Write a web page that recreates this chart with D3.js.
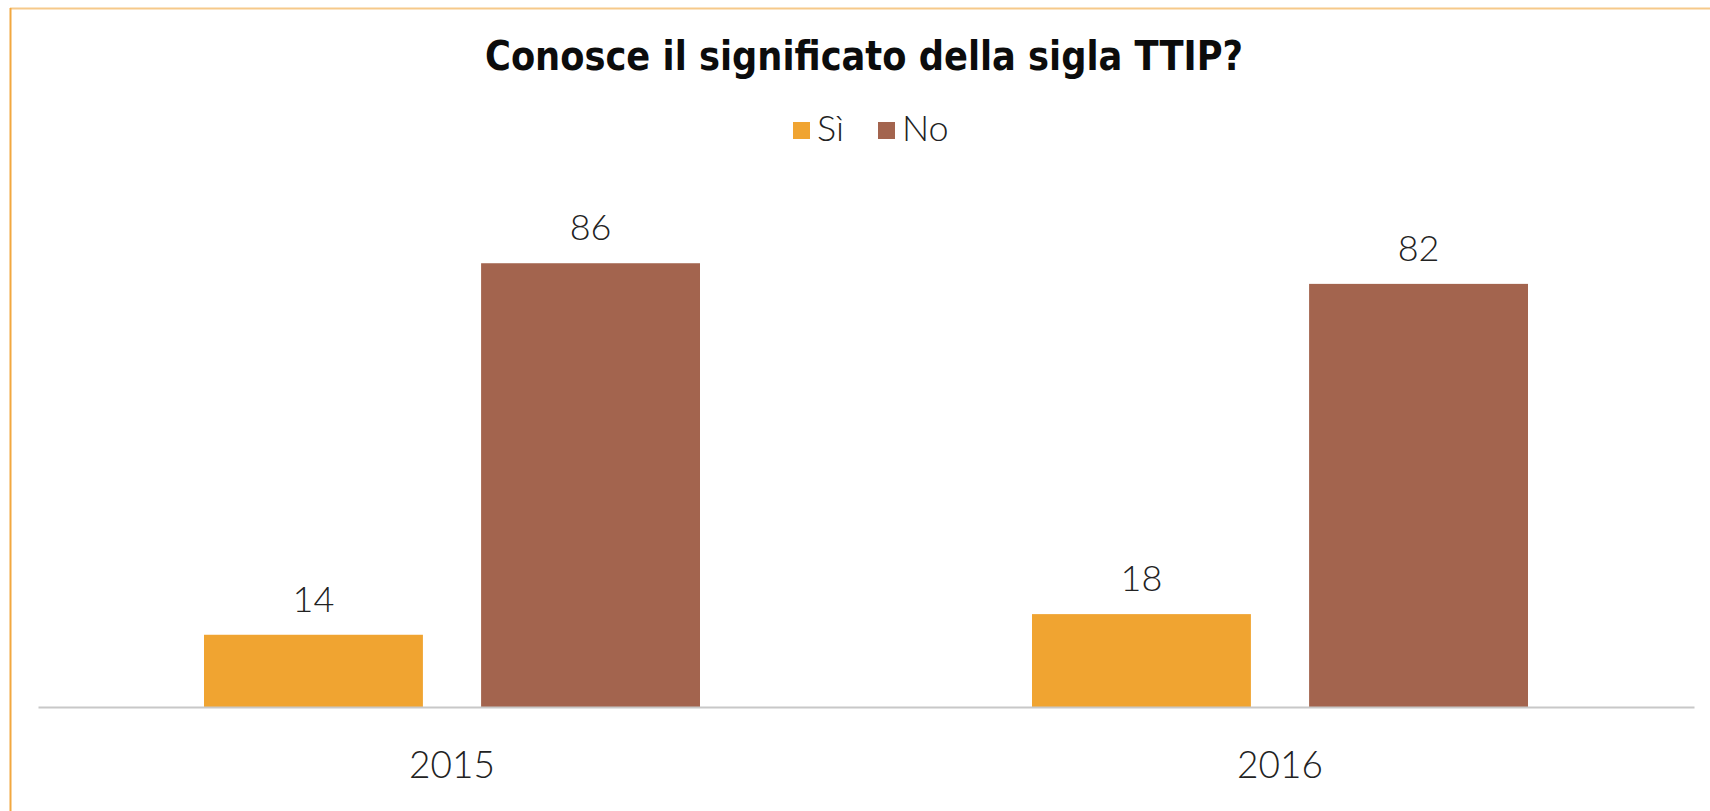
<!DOCTYPE html>
<html>
<head>
<meta charset="utf-8">
<script src="https://cdn.jsdelivr.net/npm/d3@7"></script>
<style>
  html, body { margin:0; padding:0; background:#fff; }
  svg { display:block; }
</style>
</head>
<body>
<svg id="chart" width="1710" height="811"></svg>
<script>
const title      = 'Conosce il significato della sigla TTIP?';
const years      = ['2015', '2016'];
const seriesKeys = ['Sì', 'No'];
const siValues   = [14, 18];
const noValues   = [86, 82];
const colors     = ['#f0a431', '#a3644e'];

const rows = years.map((y, i) => ({ year: y, values: [siValues[i], noValues[i]] }));

const svg = d3.select('#chart');
const W = 1710, H = 811;
const margin = { top:191, right:16, bottom:104, left:38 };
const w = W - margin.left - margin.right;
const h = H - margin.top - margin.bottom;

// frame
svg.append('line').attr('x1',10).attr('x2',W).attr('y1',8.5).attr('y2',8.5)
  .attr('stroke','#f6c98a').attr('stroke-width',2);
svg.append('line').attr('x1',10.5).attr('x2',10.5).attr('y1',8).attr('y2',H)
  .attr('stroke','#f2a840').attr('stroke-width',2);

svg.append('text')
  .attr('x', 864).attr('y', 70)
  .attr('text-anchor','middle')
  .attr('textLength', 758).attr('lengthAdjust','spacingAndGlyphs')
  .style('font-family','"DejaVu Sans Condensed", "DejaVu Sans", sans-serif')
  .style('font-weight','bold').style('font-size','40px').style('fill','#0c0c0c')
  .text(title);

// legend
const lg = svg.append('g').attr('transform','translate(793,122)');
const legendX = [0, 85];
seriesKeys.forEach((k, i) => {
  const it = lg.append('g').attr('transform', `translate(${legendX[i]},0)`);
  it.append('rect').attr('width',17).attr('height',17).attr('fill',colors[i]);
  it.append('text').attr('x',24).attr('y',19)
    .style('font-family','Lato, "Open Sans", sans-serif').style('font-weight',300)
    .style('font-size','36px').style('fill','#222').text(k);
});

const g = svg.append('g').attr('transform', `translate(${margin.left},${margin.top})`);

const x0 = d3.scaleBand().domain(years).range([0, w]).paddingInner(0).paddingOuter(0);
const x1 = d3.scaleBand().domain(seriesKeys).range([166, x0.bandwidth() - 166]).paddingInner(0.21);
const y  = d3.scaleLinear().domain([0, 100]).range([h, 0]);

const groups = g.selectAll('.grp').data(rows).join('g')
  .attr('class','grp')
  .attr('transform', d => `translate(${x0(d.year)},0)`);

groups.selectAll('rect').data(d => d.values.map((v, i) => ({ key: seriesKeys[i], v, i })))
  .join('rect')
  .attr('x', d => x1(d.key))
  .attr('y', d => y(d.v))
  .attr('width', x1.bandwidth())
  .attr('height', d => h - y(d.v))
  .attr('fill', d => colors[d.i]);

groups.selectAll('text.val').data(d => d.values.map((v, i) => ({ key: seriesKeys[i], v })))
  .join('text')
  .attr('class','val')
  .attr('x', d => x1(d.key) + x1.bandwidth() / 2)
  .attr('y', d => y(d.v) - 23)
  .attr('text-anchor','middle')
  .style('font-family','Lato, "Open Sans", sans-serif').style('font-weight',300)
  .style('font-size','36px').style('fill','#222')
  .text(d => d.v);

const ax = g.append('g').attr('transform', `translate(0,${h})`)
  .call(d3.axisBottom(x0).tickSize(0).tickPadding(0));
ax.select('.domain').attr('stroke','#c8c8c8').attr('stroke-width',2);
ax.selectAll('text')
  .attr('dy', null).attr('y', 71)
  .style('font-family','Lato, "Open Sans", sans-serif').style('font-weight',300)
  .style('font-size','37px').style('fill','#222');
</script>
</body>
</html>
